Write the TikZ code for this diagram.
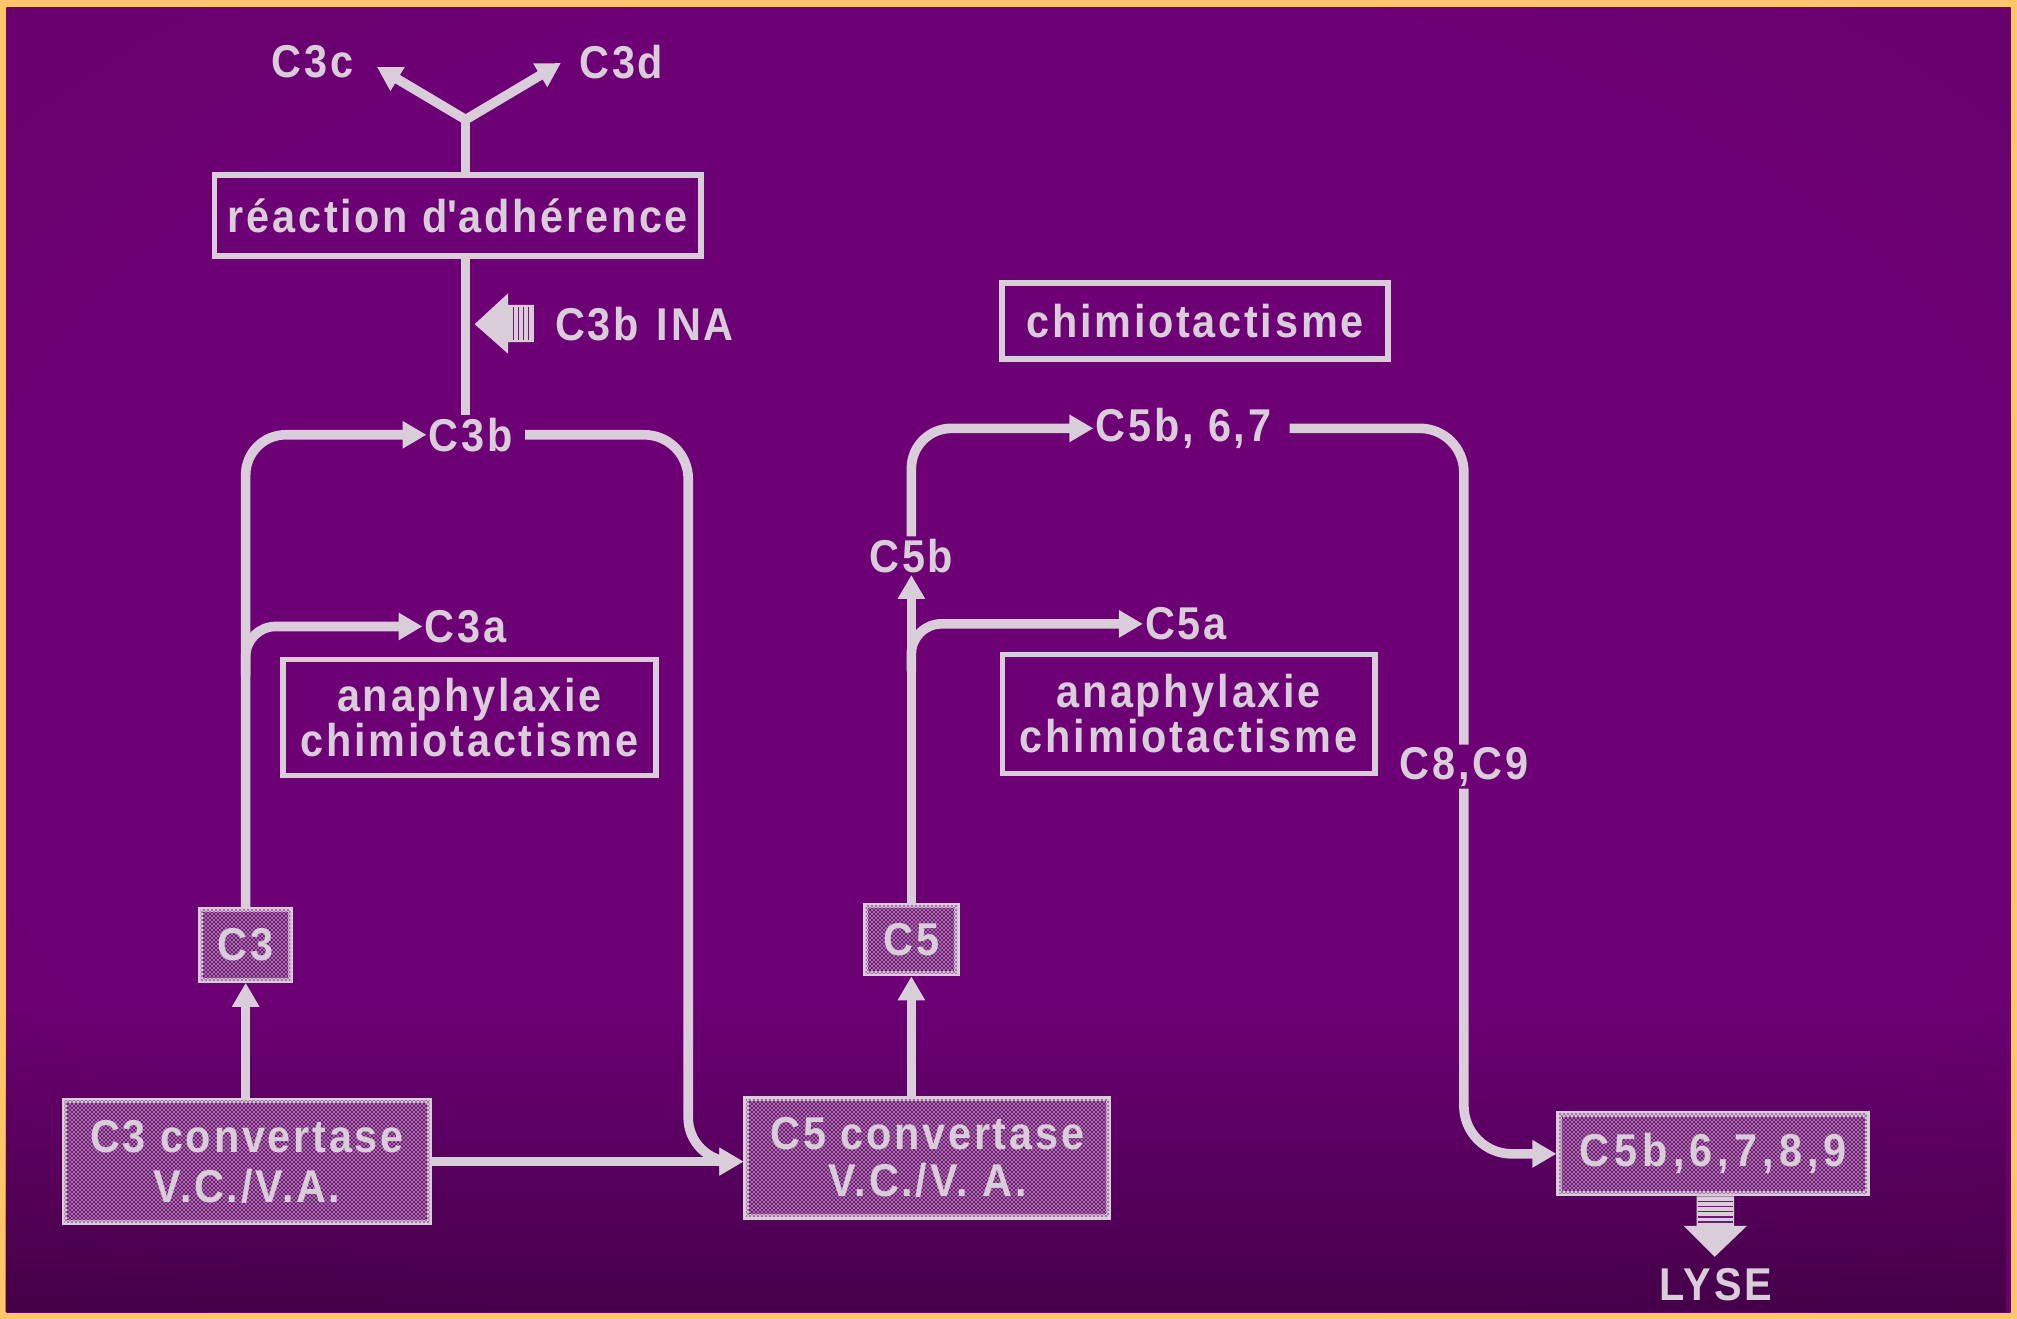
\documentclass[tikz,border=0pt]{standalone}
\usepackage{fontspec}
\setmainfont{Liberation Sans}[FakeStretch=0.9, LetterSpace=6]
\usetikzlibrary{arrows.meta,patterns,fadings}
\definecolor{bord}{RGB}{255,198,105}
\definecolor{bgmid}{RGB}{108,0,116}
\definecolor{bgmid2}{RGB}{102,0,96}
\definecolor{bgedge}{RGB}{100,0,74}
\definecolor{lite}{RGB}{218,205,218}
\definecolor{boxfill}{RGB}{112,22,118}
\pgfdeclareradialshading{bgshade}{\pgfpoint{0bp}{0bp}}{color(0bp)=(bgmid); color(26bp)=(bgmid); color(50bp)=(bgmid2); color(71bp)=(bgedge)}
\tikzfading[name=fadebot, top color=transparent!100, bottom color=transparent!0]
\pgfdeclarepatternformonly{checker}{\pgfqpoint{0pt}{0pt}}{\pgfqpoint{2pt}{2pt}}{\pgfqpoint{2pt}{2pt}}{%
  \pgfpathrectangle{\pgfqpoint{0pt}{0pt}}{\pgfqpoint{1pt}{1pt}}%
  \pgfpathrectangle{\pgfqpoint{1pt}{1pt}}{\pgfqpoint{1pt}{1pt}}%
  \pgfusepath{fill}}
\begin{document}
\begin{tikzpicture}[x=0.6432pt, y=-0.6432pt,
  lab/.style={text=lite, font=\bfseries\fontsize{23}{22.5}\selectfont, inner sep=1pt},
  frame/.style={draw=lite, line width=2.6pt, lab, align=center, inner sep=0pt},
  dotbox/.style={frame, fill=boxfill, postaction={pattern=checker, pattern color=lite!50!boxfill}},
  conn/.style={draw=lite, line width=4.8pt, rounded corners=20pt},
  arr/.style={conn, -{Triangle[length=12pt,width=13pt]}},
  blockarr/.style={fill=lite},
  hatch/.style={draw=boxfill, line width=0.7pt},
]
% background
\fill[bord] (0,0) rectangle (1568,1025);
\shade[shading=bgshade] (5,6) rectangle (1563,1020);
\fill[black, fill opacity=0.35, path fading=fadebot] (5,780) rectangle (1563,1020);

% nodes
\node[lab] (c3c) at (243,48) {C3c};
\node[lab] (c3d) at (483,48) {C3d};
\coordinate (fork) at (362,93);
\coordinate (c3ctip) at (293,52);
\coordinate (c3dtip) at (436,49);
\node[frame, minimum width=243.1pt, minimum height=40.5pt] (reac) at (356,167.5) {réaction d\textquotesingle adhérence};
\node[lab] (ina) at (501,252) {C3b\hspace{9pt}INA};
\node[frame, minimum width=193pt, minimum height=38pt] (chim) at (929,249.5) {chimiotactisme};
\node[lab] (c3b) at (366,338) {C3b};
\node[lab] (c3a) at (362,487) {C3a};
\node[frame, minimum width=186.5pt, minimum height=57.9pt] (ana1) at (365,558) {anaphylaxie\\chimiotactisme};
\node[dotbox, minimum width=45pt, minimum height=35.4pt] (c3box) at (191,734.5) {C3};
\node[dotbox, minimum width=182.7pt, minimum height=61.1pt, font=\bfseries\fontsize{23}{25}\selectfont] (c3conv) at (192,903) {C3 convertase\\V.C./V.A.};

\node[lab] (c567) at (920,333) {C5b, 6,7};
\node[lab] (c5b) at (708.5,432) {C5b};
\node[lab] (c5a) at (922,485) {C5a};
\node[frame, minimum width=186.5pt, minimum height=59.2pt] (ana2) at (924,555) {anaphylaxie\\chimiotactisme};
\node[dotbox, minimum width=45.7pt, minimum height=34.1pt] (c5box) at (708.5,730.5) {C5};
\node[dotbox, minimum width=181.4pt, minimum height=59.2pt, font=\bfseries\fontsize{23}{23.5}\selectfont] (c5conv) at (721,900) {C5 convertase\\V.C./V. A.};
\node[lab] (c89) at (1138,596) {C8,C9};
\node[dotbox, minimum width=154.4pt, minimum height=39.9pt, font=\bfseries\fontsize{23}{22.5}\selectfont\addfontfeature{LetterSpace=11}] (mac) at (1332,897) {C5b,6,7,8,9};
\node[lab] (lyse) at (1334,999) {LYSE};

% fork to C3c / C3d
\draw[conn] (fork |- reac.north) -- (fork);
\draw[arr] (fork) -- (c3ctip);
\draw[arr] (fork) -- (c3dtip);
\draw[conn] (fork |- reac.south) -- (fork |- c3b.north);

% C3b INA block arrow
\fill[blockarr] (369,252) -- (395,228) -- (395,237) -- (415,237) -- (415,266) -- (395,266) -- (395,275) -- cycle;
\foreach \xx in {399,403,407,411} \draw[hatch] (\xx,239) -- (\xx,264);

% left C3 pathway
\draw[arr] (c3conv.north -| c3box.south) -- (c3box.south);
\draw[arr] (c3box.north) -- (191,338) -- (c3b.west);
\coordinate (br3) at (191,525);
\draw[arr, rounded corners=15pt] (br3) -- (191,487) -- (c3a.west);
\draw[arr, rounded corners=22pt, shorten <=5pt] (c3b.east) -- (535,338) -- (535,903) -- (c3conv.east -| c5conv.west);
\draw[arr] (c3conv.east) -- (c3conv.east -| c5conv.west);

% C5 pathway
\draw[arr] (c5box.south |- c5conv.north) -- (c5box.south);
\draw[arr] (c5box.north) -- (c5b.south);
\coordinate (br5) at (708.5,522);
\draw[arr, rounded corners=15pt] (br5) -- (708.5,485) -- (c5a.west);
\draw[arr] (c5b.north) -- (708.5,333) -- (c567.west);
\draw[conn, rounded corners=22pt, shorten <=8pt] (c567.east) -- (1138,333) -- (c89.north);
\draw[arr, rounded corners=24pt] (c89.south) -- (1138,897) -- (mac.west);

% LYSE block arrow
\fill[blockarr] (1319,930) -- (1348,930) -- (1348,953) -- (1358,953) -- (1333,977) -- (1309,953) -- (1319,953) -- cycle;
\foreach \yy in {934,938,942,946,950} \draw[hatch] (1320,\yy) -- (1347,\yy);
\end{tikzpicture}
\end{document}
